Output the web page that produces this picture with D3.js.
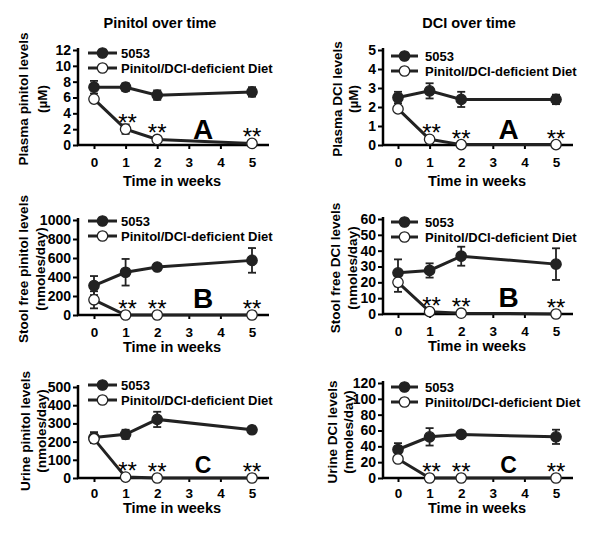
<!DOCTYPE html>
<html><head><meta charset="utf-8">
<script src="https://cdn.jsdelivr.net/npm/d3@7"></script>
<style>body{margin:0;background:#fff}svg{display:block}text{font-family:"Liberation Sans",Arial,sans-serif}</style>
</head><body>
<script>
const weeks = [0, 1, 2, 5];
const xTicks = [0, 1, 2, 3, 4, 5];
const colTitles = ["Pinitol over time", "DCI over time"];
const seriesNames = ["5053", "Pinitol/DCI-deficient Diet"];
const seriesNamesC2 = ["5053", "Piniitol/DCI-deficient Diet"];
const panelLetters = ["A", "B", "C"];

// Plasma pinitol (µM)
const plasmaPinitol5053 = [7.3, 7.3, 6.3, 6.7];
const plasmaPinitol5053Err = [0.8, 0.5, 0.6, 0.6];
const plasmaPinitolDef = [5.8, 2.0, 0.7, 0.2];
const plasmaPinitolDefErr = [0.3, 0.6, 0.2, 0.1];
// Plasma DCI (µM)
const plasmaDCI5053 = [2.5, 2.85, 2.4, 2.4];
const plasmaDCI5053Err = [0.3, 0.4, 0.4, 0.25];
const plasmaDCIDef = [1.9, 0.3, 0.02, 0.02];
const plasmaDCIDefErr = [0.1, 0.05, 0.02, 0.02];
// Stool free pinitol (nmoles/day)
const stoolPinitol5053 = [310, 450, 505, 575];
const stoolPinitol5053Err = [100, 140, 30, 130];
const stoolPinitolDef = [160, 0, 0, 0];
const stoolPinitolDefErr = [90, 0, 0, 0];
// Stool free DCI (nmoles/day)
const stoolDCI5053 = [26, 27.5, 36.5, 31.5];
const stoolDCI5053Err = [8.5, 4.5, 6, 10];
const stoolDCIDef = [20, 1.5, 0.5, 0];
const stoolDCIDefErr = [6, 0.5, 0.2, 0];
// Urine pinitol (nmoles/day)
const urinePinitol5053 = [222, 240, 322, 265];
const urinePinitol5053Err = [30, 25, 42, 15];
const urinePinitolDef = [215, 5, 0, 0];
const urinePinitolDefErr = [15, 2, 0, 0];
// Urine DCI (nmoles/day)
const urineDCI5053 = [36, 52, 55, 52];
const urineDCI5053Err = [8, 11, 3, 9];
const urineDCIDef = [24, 0, 0, 0];
const urineDCIDefErr = [3, 0, 0, 0];

const yTicksA1 = [0, 2, 4, 6, 8, 10, 12];
const yTicksA2 = [0, 1, 2, 3, 4, 5];
const yTicksB1 = [0, 200, 400, 600, 800, 1000];
const yTicksB2 = [0, 10, 20, 30, 40, 50, 60];
const yTicksC1 = [0, 100, 200, 300, 400, 500];
const yTicksC2 = [0, 20, 40, 60, 80, 100, 120];

const yLabels = [
  ["Plasma pinitol levels", "(\u00b5M)"],
  ["Plasma DCI levels", "(\u00b5M)"],
  ["Stool free pinitol levels", "(nmoles/day)"],
  ["Stool free DCI levels", "(nmoles/day)"],
  ["Urine pinitol levels", "(nmoles/day)"],
  ["Urine DCI levels", "(nmoles/day)"]
];

const W = 601, H = 536;
const svg = d3.select("body").append("svg").attr("width", W).attr("height", H);

const panels = [
  {col:0,row:0,s1:plasmaPinitol5053,e1:plasmaPinitol5053Err,s2:plasmaPinitolDef,e2:plasmaPinitolDefErr,ticks:yTicksA1,names:seriesNames,
   top:50,bottom:145,labX:[23,42],labY:99,xtOff:22,ttOff:41,letterSize:28,letterOff:6,legTop:3},
  {col:1,row:0,s1:plasmaDCI5053,e1:plasmaDCI5053Err,s2:plasmaDCIDef,e2:plasmaDCIDefErr,ticks:yTicksA2,names:seriesNames,
   top:50,bottom:145,labX:[337,353],labY:99,xtOff:22,ttOff:41,letterSize:28,letterOff:6,legTop:6},
  {col:0,row:1,s1:stoolPinitol5053,e1:stoolPinitol5053Err,s2:stoolPinitolDef,e2:stoolPinitolDefErr,ticks:yTicksB1,names:seriesNames,
   top:220,bottom:315,labX:[23,40],labY:269,xtOff:22,ttOff:37,letterSize:28,letterOff:7,legTop:1},
  {col:1,row:1,s1:stoolDCI5053,e1:stoolDCI5053Err,s2:stoolDCIDef,e2:stoolDCIDefErr,ticks:yTicksB2,names:seriesNames,
   top:219,bottom:314,labX:[335,352],labY:268,xtOff:22,ttOff:37,letterSize:28,letterOff:7,legTop:3},
  {col:0,row:2,s1:urinePinitol5053,e1:urinePinitol5053Err,s2:urinePinitolDef,e2:urinePinitolDefErr,ticks:yTicksC1,names:seriesNames,
   top:387,bottom:478,labX:[25,41],labY:431,xtOff:20,ttOff:35,letterSize:23,letterOff:5,legTop:-2},
  {col:1,row:2,s1:urineDCI5053,e1:urineDCI5053Err,s2:urineDCIDef,e2:urineDCIDefErr,ticks:yTicksC2,names:seriesNamesC2,
   top:383,bottom:478,labX:[332,348],labY:432,xtOff:20,ttOff:35,letterSize:23,letterOff:5,legTop:4}
];

const colGeom = [
  {axisX:78, x0:94, x5:252, titleX:160, timeX:172, legLine:[88,117], legText:121},
  {axisX:383, x0:398, x5:556, titleX:469, timeX:477, legLine:[391,418], legText:425}
];

colTitles.forEach((t,i)=>{
  svg.append("text").attr("x",colGeom[i].titleX).attr("y",28).attr("text-anchor","middle")
    .attr("font-size",14.5).attr("font-weight","bold").text(t);
});

const R = 5.2;
panels.forEach((p,pi)=>{
  const g = colGeom[p.col];
  const x = d3.scaleLinear().domain([0,5]).range([g.x0,g.x5]);
  const ymax = p.ticks[p.ticks.length-1];
  const y = d3.scaleLinear().domain([0,ymax]).range([p.bottom,p.top]);
  const G = svg.append("g");

  const ya = G.append("g").attr("transform",`translate(${g.axisX},0)`)
    .call(d3.axisLeft(y).tickValues(p.ticks).tickSize(5).tickPadding(2).tickFormat(d3.format("d")));
  ya.select(".domain").attr("stroke-width",2.5).attr("d",`M0,${p.top-2}V${p.bottom}`);
  ya.selectAll(".tick line").attr("stroke-width",2);
  ya.selectAll(".tick text").attr("font-size",14).attr("font-weight","bold")
    .attr("font-family","'Liberation Sans',Arial,sans-serif").attr("fill","#000");

  const xa = G.append("g").attr("transform",`translate(0,${p.bottom})`)
    .call(d3.axisBottom(x).tickValues(xTicks).tickSize(4).tickPadding(p.xtOff-14).tickFormat(d3.format("d")));
  xa.select(".domain").attr("stroke-width",2.5).attr("d",`M${g.axisX-1},0H${g.x5+17}`);
  xa.selectAll(".tick line").attr("stroke-width",2);
  xa.selectAll(".tick text").attr("font-size",13.5).attr("font-weight","bold")
    .attr("font-family","'Liberation Sans',Arial,sans-serif").attr("fill","#000");

  G.append("text").attr("x",g.timeX).attr("y",p.bottom+p.ttOff).attr("text-anchor","middle")
    .attr("font-size",14.5).attr("font-weight","bold").text("Time in weeks");
  yLabels[pi].forEach((t,li)=>{
    G.append("text").attr("transform",`translate(${p.labX[li]+5},${p.labY}) rotate(-90)`)
      .attr("text-anchor","middle").attr("font-size",13.5).attr("font-weight","bold").text(t);
  });

  G.append("text").attr("x",x(p.col===0?3.45:3.5)).attr("y",p.bottom-p.letterOff).attr("text-anchor","middle")
    .attr("font-size",p.letterSize).attr("font-weight","bold").text(panelLetters[p.row]);

  const line = d3.line().x((d,i)=>x(weeks[i])).y(d=>y(d));
  const series = [{v:p.s1,e:p.e1,fill:"#222"},{v:p.s2,e:p.e2,fill:"#fff"}];
  series.forEach(s=>{
    s.v.forEach((v,i)=>{
      if(!s.e[i]) return;
      const cx = x(weeks[i]);
      const y1 = y(v+s.e[i]), y2 = y(Math.max(0,v-s.e[i]));
      G.append("line").attr("x1",cx).attr("x2",cx).attr("y1",y1).attr("y2",y2).attr("stroke","#222").attr("stroke-width",1.8);
      [y1,y2].forEach(yy=>G.append("line").attr("x1",cx-4).attr("x2",cx+4).attr("y1",yy).attr("y2",yy).attr("stroke","#222").attr("stroke-width",1.8));
    });
  });
  series.forEach(s=>{
    G.append("path").datum(s.v).attr("d",line).attr("fill","none").attr("stroke","#222").attr("stroke-width",3);
  });
  series.forEach(s=>{
    G.selectAll(null).data(s.v).enter().append("circle")
      .attr("cx",(d,i)=>x(weeks[i])).attr("cy",d=>y(d)).attr("r",R)
      .attr("fill",s.fill).attr("stroke","#222").attr("stroke-width",1.3);
  });
  p.s2.forEach((v,i)=>{
    if(i===0) return;
    G.append("text").attr("x",x(weeks[i])+(i===1?2:0)).attr("y",y(v)+2).attr("text-anchor","middle")
      .attr("font-size",24).text("**");
  });

  [0,1].forEach(k=>{
    const ly = p.top + p.legTop + k*15;
    G.append("line").attr("x1",g.legLine[0]).attr("x2",g.legLine[1]).attr("y1",ly).attr("y2",ly)
      .attr("stroke","#222").attr("stroke-width",3);
    G.append("circle").attr("cx",(g.legLine[0]+g.legLine[1])/2).attr("cy",ly).attr("r",R)
      .attr("fill",series[k].fill).attr("stroke","#222").attr("stroke-width",1.3);
    G.append("text").attr("x",g.legText).attr("y",ly+5).attr("font-size",13).attr("font-weight","bold").text(p.names[k]);
  });
});
</script>
</body></html>
